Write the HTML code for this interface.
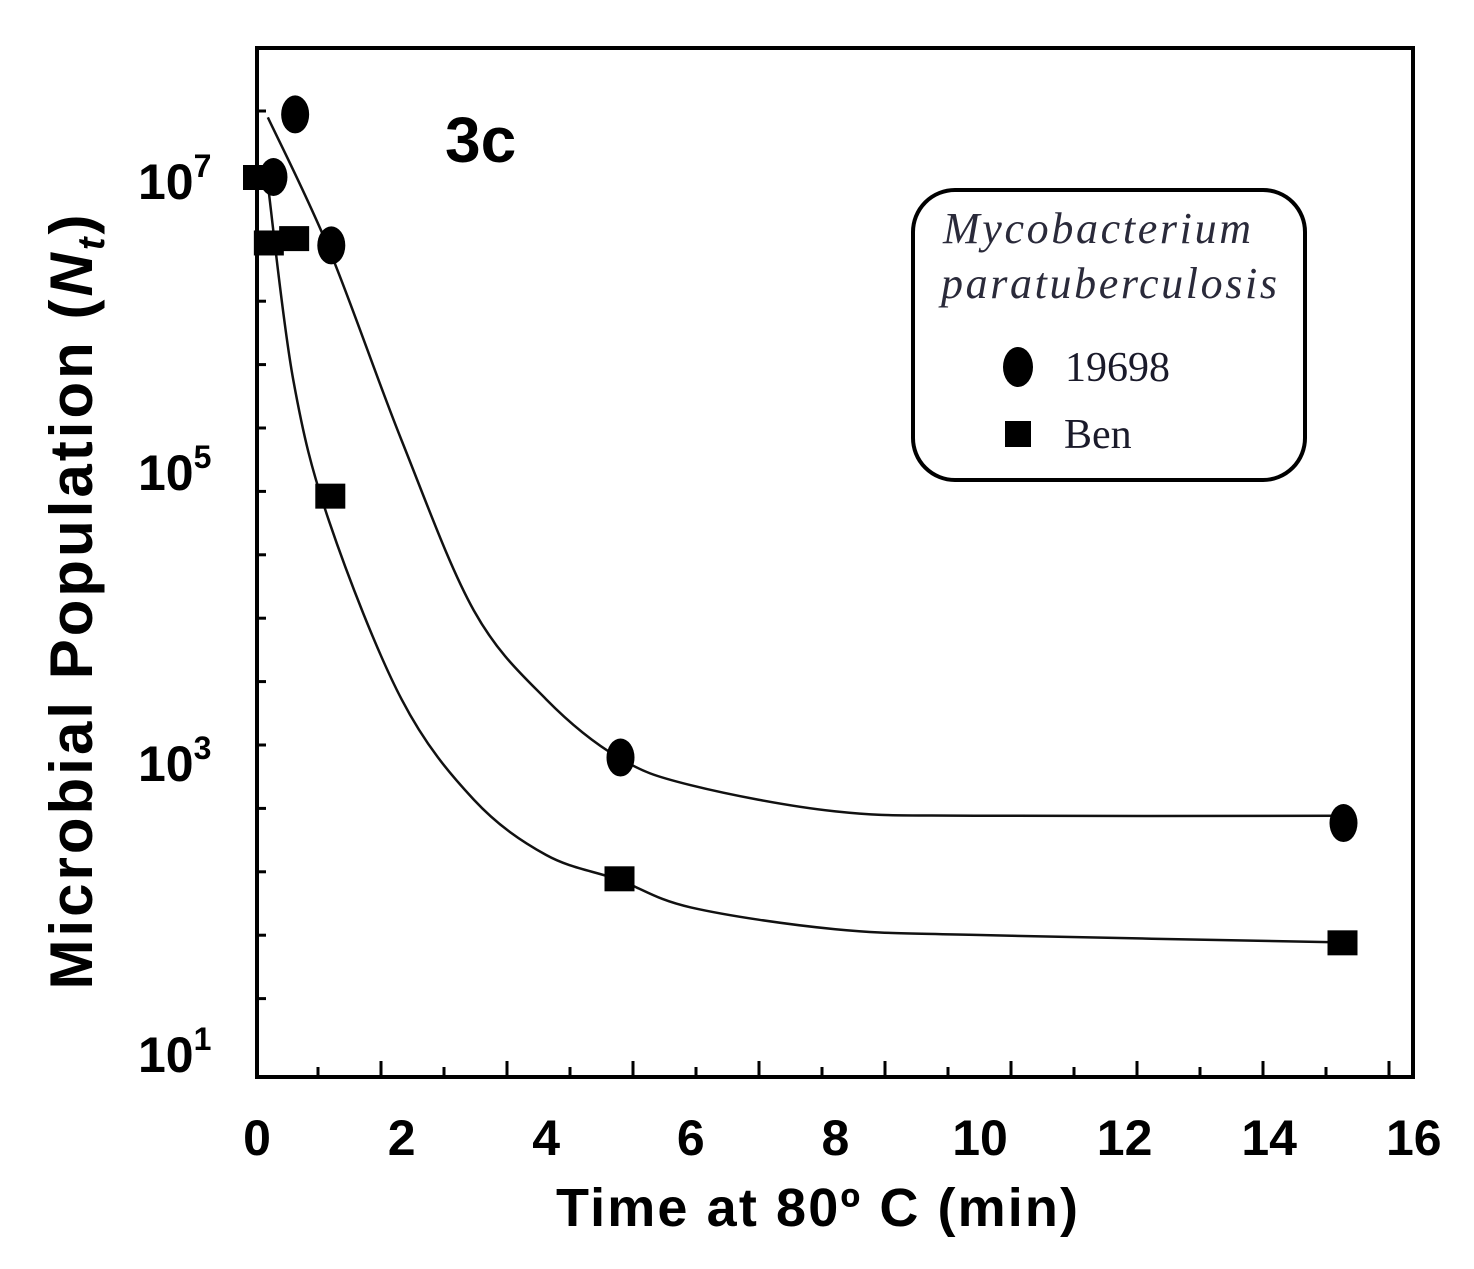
<!DOCTYPE html>
<html><head><meta charset="utf-8"><style>
html,body{margin:0;padding:0;background:#fff;}
svg{display:block;}
</style></head><body>
<svg id="chart" width="1474" height="1269" viewBox="0 0 1474 1269" xmlns="http://www.w3.org/2000/svg">
<g id="axes"></g>
<g id="curves"></g>
<g id="marks"></g>
<text x="445" y="162" font-family="Liberation Sans, sans-serif" font-weight="bold" font-size="64">3c</text>
<g>
<rect x="913" y="190" width="392" height="290" rx="42" ry="42" fill="#fff" stroke="#000" stroke-width="4"/>
<text x="943" y="243" font-family="Liberation Serif, serif" font-style="italic" font-size="44" fill="#2a2a3a" textLength="308">Mycobacterium</text>
<text x="941" y="298" font-family="Liberation Serif, serif" font-style="italic" font-size="44" fill="#2a2a3a" textLength="336">paratuberculosis</text>
<ellipse cx="1018" cy="367" rx="15" ry="20" fill="#000"/>
<text x="1065" y="381" font-family="Liberation Serif, serif" font-size="42" fill="#1a1a2a">19698</text>
<rect x="1005" y="421" width="26" height="26" fill="#000"/>
<text x="1064" y="448" font-family="Liberation Serif, serif" font-size="42" fill="#1a1a2a">Ben</text>
</g>
<text x="817" y="1226" text-anchor="middle" font-family="Liberation Sans, sans-serif" font-weight="bold" font-size="54" textLength="522">Time at 80º C (min)</text>
<text transform="translate(92,602) rotate(-90)" text-anchor="middle" font-family="Liberation Sans, sans-serif" font-weight="bold" font-size="60" textLength="775">Microbial Population (<tspan font-style="italic">N</tspan><tspan font-style="italic" font-size="38" dy="12">t</tspan><tspan dy="-12">)</tspan></text>
</svg>
<script>
const xTicks = [0,2,4,6,8,10,12,14,16];
const yTickExp = [7,5,3,1];
const s19698X = [0.2,0.5,1.0,5,15];
const s19698Y = [7.0,7.43,6.53,3.01,2.56];
const benX = [0,0.15,0.5,1.0,5,15];
const benY = [7.0,6.55,6.58,4.81,2.18,1.74];
const fit19698X = [0.15,1,2,3,4,5,6,8,10,15];
const fit19698Y = [7.41,6.50,5.19,4.02,3.41,3.01,2.82,2.64,2.61,2.61];
const fitBenX = [0.15,0.5,1,2,3,4,5,6,8,10,15];
const fitBenY = [6.95,5.61,4.63,3.41,2.72,2.34,2.17,1.98,1.83,1.79,1.74];

const NS='http://www.w3.org/2000/svg';
const L=257,R=1413,T=48,B=1077;
function xs(v){return 257+v*72.3;}
function ys(e){return 177+(7-e)*145.5;}
function mk(tag,attrs,parent){const e=document.createElementNS(NS,tag);for(const k in attrs)e.setAttribute(k,attrs[k]);parent.appendChild(e);return e;}
const axes=document.getElementById('axes');
let f=mk('rect',{x:L,y:T,width:R-L,height:B-T,fill:'none',stroke:'#000','stroke-width':4},axes);


for(let i=0;i<15;i++){const y=111+i*63.4;let t=mk('line',{x1:L,x2:L+9,y1:y,y2:y,stroke:'#000','stroke-width':3},axes);

}
for(let i=1;i<19;i++){const x=255+i*63;if(x>R-5)break;let t=mk('line',{x1:x,x2:x,y1:B,y2:B-(i%2?10:16),stroke:'#000','stroke-width':3},axes);

}
xTicks.forEach(v=>{let t=mk('text',{x:xs(v),y:1155,'text-anchor':'middle','font-family':'Liberation Sans, sans-serif','font-weight':'bold','font-size':50},axes);t.textContent=v;

});
yTickExp.forEach(e=>{let t=mk('text',{x:138,y:ys(e)+22,'font-family':'Liberation Sans, sans-serif','font-weight':'bold','font-size':50},axes);t.textContent='10';
let s=mk('tspan',{dy:-22,'font-size':32},t);s.textContent=e;

});
function path(xa,ya){const p=xa.map((x,i)=>[xs(x),ys(ya[i])]);let d='M'+p[0][0]+','+p[0][1];
for(let i=0;i<p.length-1;i++){const p0=p[i-1]||p[i],p1=p[i],p2=p[i+1],p3=p[i+2]||p2;
d+=' C'+(p1[0]+(p2[0]-p0[0])/6)+','+(p1[1]+(p2[1]-p0[1])/6)+' '+(p2[0]-(p3[0]-p1[0])/6)+','+(p2[1]-(p3[1]-p1[1])/6)+' '+p2[0]+','+p2[1];}
return d;}
const cv=document.getElementById('curves');
let c1=mk('path',{d:path(fit19698X,fit19698Y),fill:'none',stroke:'#111','stroke-width':2.5},cv);


let c2=mk('path',{d:path(fitBenX,fitBenY),fill:'none',stroke:'#111','stroke-width':2.5},cv);


const mg=document.getElementById('marks');
s19698X.forEach((x,i)=>{let e=mk('ellipse',{cx:xs(x)+2,cy:ys(s19698Y[i]),rx:14,ry:19,fill:'#000'},mg);

});
benX.forEach((x,i)=>{let e=mk('rect',{x:xs(x)-14,y:ys(benY[i])-12,width:30,height:25,fill:'#000'},mg);

});
</script>
</body></html>
